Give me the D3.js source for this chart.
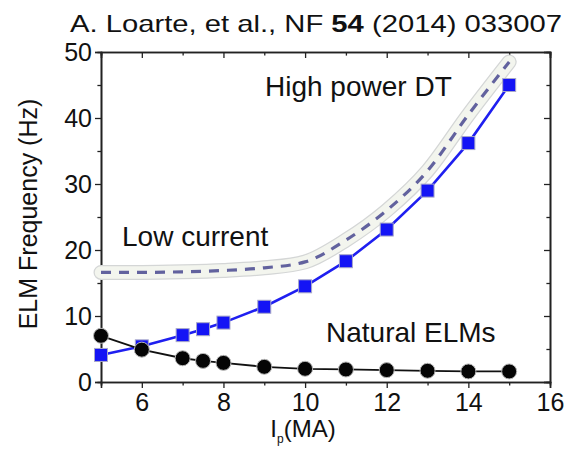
<!DOCTYPE html>
<html>
<head>
<meta charset="utf-8">
<script src="https://cdn.jsdelivr.net/npm/d3@7"></script>
<style>
  body { margin: 0; background: #fff; }
  svg { font-family: "Liberation Sans", Arial, sans-serif; }
</style>
</head>
<body>
<svg width="570" height="452"></svg>
<script>
// current (MA)
var natCurrent = [5, 6, 7, 7.5, 8, 9, 10, 11, 12, 13, 14, 15];
var natFreq = [7.0, 4.9, 3.6, 3.2, 2.9, 2.3, 2.0, 1.9, 1.8, 1.7, 1.6, 1.6];

var lowCurrent = [5, 6, 7, 7.5, 8, 9, 10, 11, 12, 13, 14, 15];
var lowFreq = [4.1, 5.4, 7.1, 8.0, 9.0, 11.4, 14.5, 18.3, 23.1, 29.0, 36.2, 45.0];

var dtCurrent = [5, 6, 7, 8, 9, 10, 11, 12, 13, 14, 15];
var dtFreq = [16.6, 16.6, 16.7, 16.9, 17.3, 18.2, 21.5, 26.0, 32.0, 40.5, 48.5];

var xTicks = [6, 8, 10, 12, 14, 16];
var yTicks = [0, 10, 20, 30, 40, 50];

var svg = d3.select("svg");

var pLeft = 101, pRight = 550, pTop = 52, pBottom = 382;

xScale = d3.scaleLinear().domain([5, 16]).range([pLeft, pRight]);
yScale = d3.scaleLinear().domain([0, 50]).range([pBottom, pTop]);

// title
var title = svg.append("text").attr("x", 70).attr("y", 32)
    .attr("font-family", "Liberation Sans, Arial, sans-serif")
    .attr("font-size", 24).attr("fill", "#111")
    .attr("textLength", 492).attr("lengthAdjust", "spacingAndGlyphs");
title.append("tspan").text("A. Loarte, et al., NF ");
title.append("tspan").attr("font-weight", "bold").text("54");
title.append("tspan").text(" (2014) 033007");

// axes with major + minor ticks
function tickAxis(axisFn, scale, majors, minors, size, pos, labels) {
    var g = svg.append("g").attr("transform", pos);
    g.call(axisFn(scale).tickValues(minors).tickSize(size * 0.6).tickFormat(""));
    var g2 = svg.append("g").attr("transform", pos);
    g2.call(axisFn(scale).tickValues(majors).tickSize(size).tickPadding(5)
        .tickFormat(labels ? d3.format("d") : ""));
    [g, g2].forEach(function (s) {
        s.select(".domain").attr("stroke", "#222").attr("stroke-width", 1.6);
        s.selectAll(".tick line").attr("stroke", "#222").attr("stroke-width", 1.3);
        s.selectAll("text").attr("font-size", 25).attr("fill", "#111")
            .attr("font-family", "Liberation Sans, Arial, sans-serif");
    });
    return g2;
}

var xMinor = [5, 7, 9, 11, 13, 15];
var yMinor = [5, 15, 25, 35, 45];

tickAxis(d3.axisBottom, xScale, xTicks, xMinor, 6, "translate(0," + pBottom + ")", true);
tickAxis(d3.axisTop, xScale, xTicks, xMinor, -6, "translate(0," + pTop + ")", false);
var yg = tickAxis(d3.axisLeft, yScale, yTicks, yMinor, 6, "translate(" + pLeft + ",0)", true);
yg.selectAll("text").attr("dx", 2);
tickAxis(d3.axisRight, yScale, yTicks, yMinor, -6, "translate(" + pRight + ",0)", false);

// axis titles
svg.append("text").attr("transform", "translate(37,214) rotate(-90)")
    .attr("text-anchor", "middle").attr("font-size", 25).attr("fill", "#111")
    .text("ELM Frequency (Hz)");
var xl = svg.append("text").attr("x", 303).attr("y", 437)
    .attr("text-anchor", "middle").attr("font-size", 24).attr("fill", "#111");
xl.append("tspan").text("I");
xl.append("tspan").attr("font-size", 12).attr("dy", 6).text("p");
xl.append("tspan").attr("dy", -6).text("(MA)");

// high power DT: glowing dashed line
var dtLine = d3.line().x(function (d, i) { return xScale(dtCurrent[i]); })
    .y(function (d) { return yScale(d); }).curve(d3.curveMonotoneX);
svg.append("path").attr("d", dtLine(dtFreq)).attr("fill", "none")
    .attr("stroke", "#d4d6d6").attr("stroke-width", 15).attr("stroke-linecap", "round");
svg.append("path").attr("d", dtLine(dtFreq)).attr("fill", "none")
    .attr("stroke", "#f3f5ee").attr("stroke-width", 12.5).attr("stroke-linecap", "round");
svg.append("path").attr("d", dtLine(dtFreq)).attr("fill", "none")
    .attr("stroke", "#62629e").attr("stroke-width", 3.2).attr("stroke-dasharray", "10,8");

// low current: blue squares
var lowLine = d3.line().x(function (d, i) { return xScale(lowCurrent[i]); })
    .y(function (d) { return yScale(d); });
svg.append("path").attr("d", lowLine(lowFreq)).attr("fill", "none")
    .attr("stroke", "#1f1ff0").attr("stroke-width", 2.6);
svg.selectAll(".sq").data(lowFreq).enter().append("rect")
    .attr("x", function (d, i) { return xScale(lowCurrent[i]) - 6.5; })
    .attr("y", function (d) { return yScale(d) - 6.5; })
    .attr("width", 13).attr("height", 13)
    .attr("fill", "#1414f5").attr("stroke", "#a8a8c8").attr("stroke-width", 1);

// natural ELMs: black circles
var natLine = d3.line().x(function (d, i) { return xScale(natCurrent[i]); })
    .y(function (d) { return yScale(d); });
svg.append("path").attr("d", natLine(natFreq)).attr("fill", "none")
    .attr("stroke", "#111").attr("stroke-width", 1.8);
svg.selectAll(".dot").data(natFreq).enter().append("circle")
    .attr("cx", function (d, i) { return xScale(natCurrent[i]); })
    .attr("cy", function (d) { return yScale(d); })
    .attr("r", 7.5).attr("fill", "#050505").attr("stroke", "#b8b8b8").attr("stroke-width", 1);

// annotations
svg.append("text").attr("x", 265).attr("y", 96).attr("font-size", 28).attr("fill", "#111").text("High power DT");
svg.append("text").attr("x", 122).attr("y", 246).attr("font-size", 28).attr("fill", "#111").text("Low current");
svg.append("text").attr("x", 326).attr("y", 342).attr("font-size", 28).attr("fill", "#111").text("Natural ELMs");
</script>
</body>
</html>
